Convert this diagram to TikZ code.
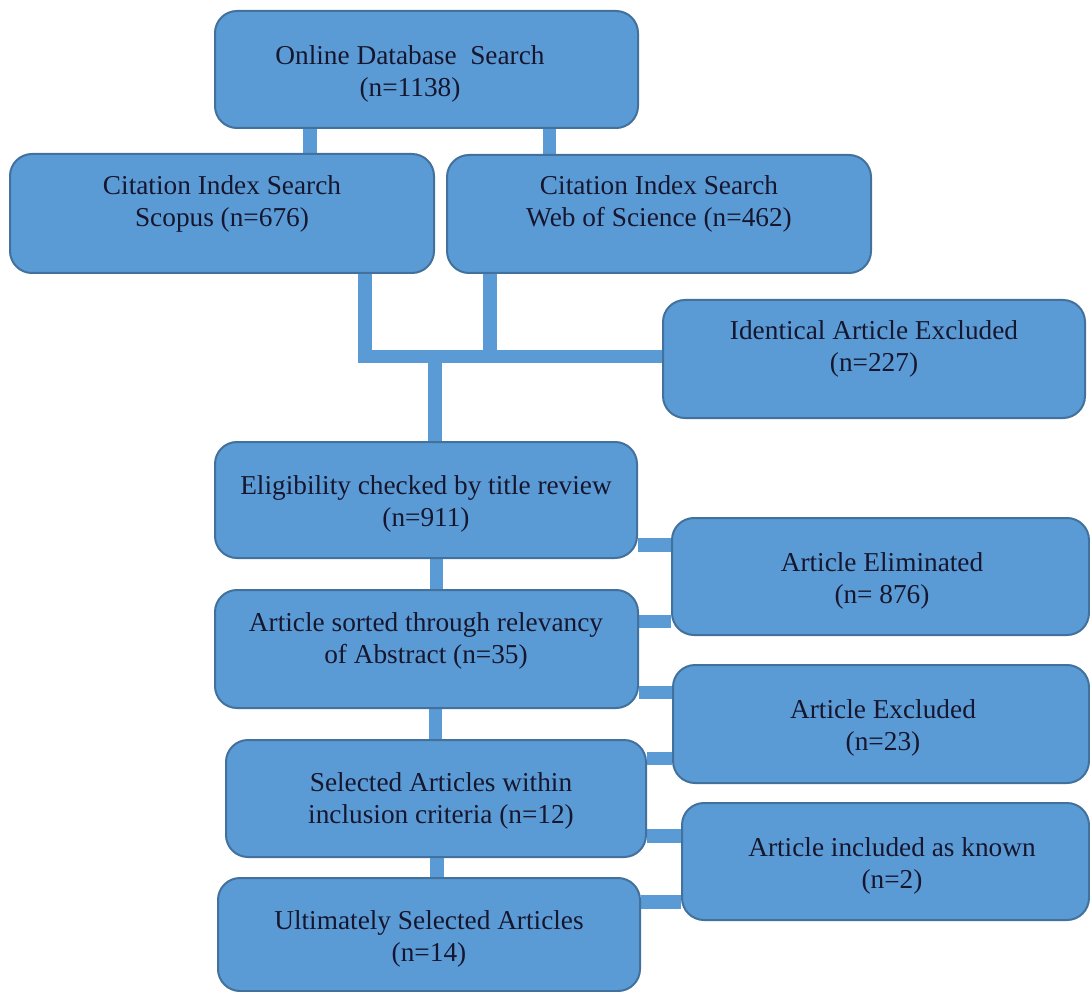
\documentclass[tikz,border=0pt]{standalone}
\usepackage{fontspec}
\setmainfont{Liberation Serif}
\usetikzlibrary{calc,backgrounds}
\definecolor{boxfill}{HTML}{5B9BD5}
\definecolor{boxline}{HTML}{41719C}
\definecolor{txtcol}{HTML}{16162E}
\tikzset{
  box/.style={draw=boxline, line width=2pt, fill=boxfill, rounded corners=22pt, inner sep=0pt},
  conn/.style={draw=boxfill, line width=13.5pt, line join=miter, line cap=butt},
  lbl/.style={text=txtcol, align=center, font=\fontsize{27.3}{32.5}\selectfont, inner sep=0pt, yshift=-3pt}
}
\newcommand{\mybox}[5]{% name, left, top, right, bottom
  \node[box, minimum width={#4-#2}, minimum height={#5-#3}] (#1) at ({(#2+#4)/2},{(#3+#5)/2}) {};
}
\begin{document}
\begin{tikzpicture}[x=1pt,y=-1pt]
\useasboundingbox (0,0) rectangle (1090,992);
% boxes (positions in pixels)
\mybox{online}{215}{11}{638}{128}
\mybox{scopus}{10}{154}{434}{273}
\mybox{wos}{447}{155}{871}{273}
\mybox{ident}{663}{300}{1085}{418}
\mybox{elig}{215}{442}{637}{558}
\mybox{elim}{672}{518}{1089}{635}
\mybox{sorted}{215}{590}{638}{708}
\mybox{excl}{673}{665}{1089}{783}
\mybox{select}{226}{740}{646}{857}
\mybox{incl}{682}{803}{1089}{920}
\mybox{ult}{218}{878}{640}{991}
% texts
\node[lbl] (t1) at (410,71) {Online Database \ Search\\(n=1138)};
\node[lbl] (t2) at (222,201) {Citation Index Search\\Scopus (n=676)};
\node[lbl] (t3) at (659,201) {Citation Index Search\\Web of Science (n=462)};
\node[lbl] (t4) at (874,346) {Identical Article Excluded\\(n=227)};
\node[lbl] (t5) at (426,501) {Eligibility checked by title review\\(n=911)};
\node[lbl] (t6) at (882,578) {Article Eliminated\\(n= 876)};
\node[lbl] (t7) at (426,638) {Article sorted through relevancy\\of Abstract (n=35)};
\node[lbl] (t8) at (883,725) {Article Excluded\\(n=23)};
\node[lbl] (t9) at (441,798) {Selected Articles within\\inclusion criteria (n=12)};
\node[lbl] (t10) at (892,863) {Article included as known\\(n=2)};
\node[lbl] (t11) at (429,936) {Ultimately Selected Articles\\(n=14)};
% connectors (behind boxes)
\begin{scope}[on background layer]
\draw[conn] (310,0 |- online.south) -- (310,0 |- scopus.north);
\draw[conn] (549.5,0 |- online.south) -- (549.5,0 |- wos.north);
\coordinate (jL) at (365,356.5);
\coordinate (jR) at (490,356.5);
\coordinate (jS) at (435,356.5);
\draw[conn] (365,0 |- scopus.south) -- (jL) -- (jL -| ident.west);
\draw[conn] (490,0 |- wos.south) -- (jR);
\draw[conn] (jS) -- (jS |- elig.north);
\draw[conn] (436.5,0 |- elig.south) -- (436.5,0 |- sorted.north);
\draw[conn] (435.5,0 |- sorted.south) -- (435.5,0 |- select.north);
\draw[conn] (437,0 |- select.south) -- (437,0 |- ult.north);
\draw[conn] (elig.east |- 0,545) -- (elim.west |- 0,545);
\draw[conn] (sorted.east |- 0,621.5) -- (elim.west |- 0,621.5);
\draw[conn] (sorted.east |- 0,692.5) -- (excl.west |- 0,692.5);
\draw[conn] (select.east |- 0,758.5) -- (excl.west |- 0,758.5);
\draw[conn] (select.east |- 0,836) -- (incl.west |- 0,836);
\draw[conn] (ult.east |- 0,902) -- (incl.west |- 0,902);
\end{scope}
\end{tikzpicture}
\end{document}
